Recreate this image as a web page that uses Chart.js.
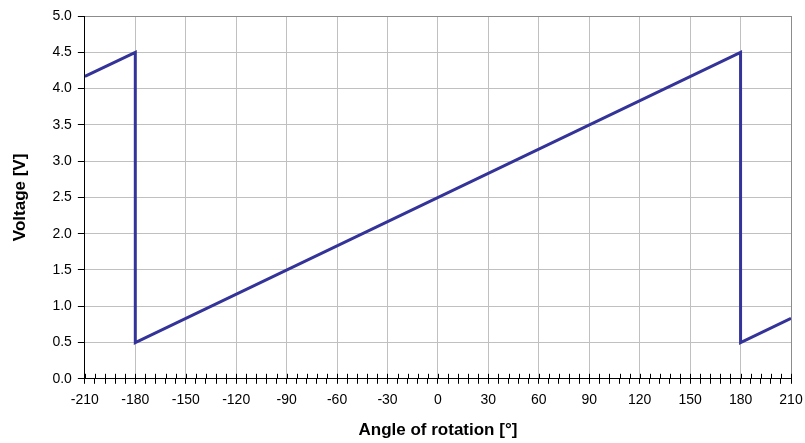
<!DOCTYPE html>
<html>
<head>
<meta charset="utf-8">
<script src="https://cdn.jsdelivr.net/npm/chart.js@4.4.1/dist/chart.umd.min.js"></script>
<style>
  body { margin: 0; background: #fff; }
  #wrap { width: 805px; height: 443px; }
</style>
</head>
<body>
<div id="wrap"><canvas id="voltChart" width="805" height="443"></canvas></div>
<script>
// Sawtooth sensor output vs rotation angle
const angles = [-210, -180, -180, 180, 180, 210];
const volts = [4.1667, 4.5, 0.5, 4.5, 0.5, 0.8333];

const xMin = -210, xMax = 210, xMinorStep = 6, xMajorStep = 30;
const yMin = 0, yMax = 5, yStep = 0.5;

function isMajor(v) {
    return Math.abs(Math.round(v) % xMajorStep) === 0;
}

// small tick marks inside the plot above the x axis
const innerTicks = {
    id: 'innerTicks',
    afterDatasetsDraw(chart) {
        const ctx = chart.ctx;
        const x = chart.scales.x;
        const bottom = chart.chartArea.bottom;
        ctx.save();
        ctx.strokeStyle = '#000';
        ctx.lineWidth = 1;
        x.ticks.forEach(t => {
            const px = Math.round(x.getPixelForValue(t.value)) + 0.5;
            ctx.beginPath();
            ctx.moveTo(px, bottom);
            ctx.lineTo(px, bottom - 5);
            ctx.stroke();
        });
        ctx.restore();
    }
};

const ctx = document.getElementById('voltChart').getContext('2d');
new Chart(ctx, {
    type: 'line',
    data: {
        datasets: [{
            data: angles.map((a, i) => ({ x: a, y: volts[i] })),
            borderColor: '#333399',
            borderWidth: 3,
            pointRadius: 0,
            tension: 0,
            fill: false
        }]
    },
    options: {
        responsive: false,
        animation: false,
        layout: { padding: { top: 16, right: 0, left: 10, bottom: 2 } },
        plugins: {
            legend: { display: false },
            tooltip: { enabled: false }
        },
        scales: {
            x: {
                type: 'linear',
                min: xMin,
                max: xMax,
                afterFit: scale => { scale.paddingRight = 14; },
                ticks: {
                    stepSize: xMinorStep,
                    autoSkip: false,
                    maxRotation: 0,
                    color: '#000',
                    font: { family: 'Liberation Sans', size: 14 },
                    padding: 8,
                    callback: v => isMajor(v) ? String(Math.round(v)) : ''
                },
                grid: {
                    color: c => {
                        if (!isMajor(c.tick.value)) return 'rgba(0,0,0,0)';
                        return c.tick.value === xMax ? '#8c8c8c' : '#c0c0c0';
                    },
                    tickColor: '#000',
                    tickLength: 5,
                    lineWidth: 1
                },
                border: { color: '#000', width: 1 },
                title: {
                    display: true,
                    text: 'Angle of rotation [°]',
                    color: '#000',
                    font: { family: 'Liberation Sans', size: 17, weight: 'bold' },
                    padding: { top: 4, bottom: 0 }
                }
            },
            y: {
                min: yMin,
                max: yMax,
                ticks: {
                    stepSize: yStep,
                    color: '#000',
                    font: { family: 'Liberation Sans', size: 14 },
                    padding: 6,
                    callback: v => v.toFixed(1)
                },
                grid: {
                    color: c => c.tick.value === yMax ? '#8c8c8c' : '#c0c0c0',
                    tickColor: '#000',
                    tickLength: 7
                },
                border: { color: '#000', width: 1 },
                title: {
                    display: true,
                    text: 'Voltage [V]',
                    color: '#000',
                    font: { family: 'Liberation Sans', size: 17, weight: 'bold' },
                    padding: { top: 0, bottom: 16 }
                }
            }
        }
    },
    plugins: [innerTicks]
});
</script>
</body>
</html>
